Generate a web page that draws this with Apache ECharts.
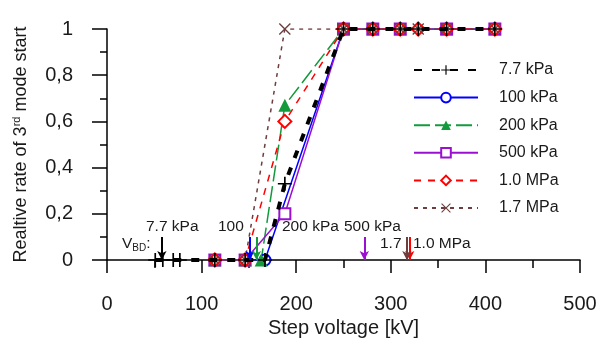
<!DOCTYPE html>
<html>
<head>
<meta charset="utf-8">
<script src="https://cdn.jsdelivr.net/npm/echarts@6/dist/echarts.min.js"></script>
<style>
  html, body { margin: 0; padding: 0; background: #fff; }
  #chart { width: 613px; height: 345px; }
</style>
</head>
<body>
<div id="chart"></div>
<script>
// series names
const names = ['7.7 kPa', '100 kPa', '200 kPa', '500 kPa', '1.0 MPa', '1.7 MPa'];

// step voltages [kV] and relative rate per series
const x77 = [51, 59, 70, 77, 114, 146, 167, 188, 250, 281, 310, 329, 359, 410];
const y77 = [0, 0, 0, 0, 0, 0, 0, 0.33, 1, 1, 1, 1, 1, 1];
const x100 = [114, 146, 167, 250, 281, 310, 359, 410];
const y100 = [0, 0, 0, 1, 1, 1, 1, 1];
const x200 = [114, 146, 163, 188, 250, 281, 310, 359, 410];
const y200 = [0, 0, 0, 0.67, 1, 1, 1, 1, 1];
const x500 = [114, 146, 188, 250, 281, 310, 359, 410];
const y500 = [0, 0, 0.2, 1, 1, 1, 1, 1];
const x1000 = [114, 146, 188, 250, 281, 310, 329, 359, 410];
const y1000 = [0, 0, 0.6, 1, 1, 1, 1, 1, 1];
const x1700 = [114, 146, 188, 250, 281, 310, 329, 359, 410];
const y1700 = [0, 0, 1, 1, 1, 1, 1, 1, 1];

// breakdown voltages V_BD [kV], same order as names
const vbd = [58, 151, 158, 272, 320, 317];

const xTicks = [0, 100, 200, 300, 400, 500];
const yTicks = [0, 0.2, 0.4, 0.6, 0.8, 1];

const colors = ['#000000', '#0000ff', '#129a3c', '#9b10d0', '#ff0000', '#6e3d3d'];
const plusPath = 'path://M4.4,0H5.6V4.4H10V5.6H5.6V10H4.4V5.6H0V4.4H4.4Z';
const crossPath = 'path://M0,0.8L0.8,0L5,4.2L9.2,0L10,0.8L5.8,5L10,9.2L9.2,10L5,5.8L0.8,10L0,9.2L4.2,5Z';

const pairs = (xs, ys) => xs.map((x, i) => [x, ys[i]]);

function arrow(i) {
  return {
    silent: true,
    symbol: ['none', 'arrow'],
    symbolSize: [7, 9],
    label: { show: false },
    lineStyle: { color: colors[i], width: 2, type: 'solid' },
    data: [[{ coord: [vbd[i], 0.1] }, { coord: [vbd[i], 0] }]]
  };
}

const chart = echarts.init(document.getElementById('chart'));
const font = 'Liberation Sans, Arial, sans-serif';
const ink = '#1a1a1a';

function note(text, left, top) {
  return { type: 'text', left, top, style: { text, fontSize: 15.5, fontFamily: font, fill: ink } };
}

const option = {
  animation: false,
  textStyle: { fontFamily: font },
  grid: { left: 107, right: 33, top: 29, bottom: 85 },
  legend: {
    orient: 'vertical',
    left: 408,
    top: 56,
    itemWidth: 64,
    itemHeight: 12,
    itemGap: 9.6,
    textStyle: { fontSize: 16, lineHeight: 18, color: ink, padding: [0, 0, 0, 16] },
    data: names
  },
  xAxis: {
    type: 'value',
    min: 0,
    max: 500,
    interval: 100,
    name: 'Step voltage [kV]',
    nameLocation: 'middle',
    nameGap: 58,
    nameTextStyle: { fontSize: 20, color: ink },
    axisLine: { lineStyle: { color: '#000', width: 1.5 } },
    axisTick: { length: 13, lineStyle: { color: '#000', width: 1.5 } },
    minorTick: { show: true, splitNumber: 2, length: 8, lineStyle: { color: '#000', width: 1.5 } },
    splitLine: { show: false },
    axisLabel: { margin: 34, fontSize: 20, color: ink,
      formatter: v => xTicks.includes(v) ? String(v) : '' }
  },
  yAxis: {
    type: 'value',
    min: 0,
    max: 1,
    interval: 0.2,
    name: 'Realtive rate of 3{sup|rd} mode start',
    nameLocation: 'middle',
    nameGap: 76,
    nameRotate: 90,
    nameTextStyle: {
      fontSize: 18, color: ink,
      rich: { sup: { fontSize: 11, color: ink, verticalAlign: 'top', padding: [0, 0, 9, 0] } }
    },
    axisLine: { show: true, lineStyle: { color: '#000', width: 1.5 } },
    axisTick: { show: true, length: 15, lineStyle: { color: '#000', width: 1.5 } },
    minorTick: { show: true, splitNumber: 2, length: 7, lineStyle: { color: '#000', width: 1.5 } },
    splitLine: { show: false },
    axisLabel: { margin: 34, fontSize: 20, color: ink,
      formatter: v => yTicks.includes(v) ? String(v).replace('.', ',') : '' }
  },
  graphic: [
    note('7.7 kPa', 146, 219),
    note('100', 218, 219),
    note('200 kPa', 282, 219),
    note('500 kPa', 344, 219),
    note('1.7', 380, 236),
    note('1.0 MPa', 413, 236),
    { type: 'text', left: 122, top: 236, style: {
      text: '{a|V}{b|BD}{a|:}', fontFamily: font, fill: ink,
      rich: { a: { fontSize: 15.5, fontFamily: font }, b: { fontSize: 10, fontFamily: font, padding: [9, 0, 0, 0] } } } }
  ],
  series: [
    {
      name: names[1], type: 'line', z: 3, data: pairs(x100, y100),
      symbol: 'emptyCircle', symbolSize: 11,
      itemStyle: { color: colors[1], borderWidth: 1 },
      lineStyle: { color: colors[1], width: 1.5 },
      markLine: arrow(1)
    },
    {
      name: names[2], type: 'line', z: 3, data: pairs(x200, y200),
      symbol: 'triangle', symbolSize: 13,
      itemStyle: { color: colors[2] },
      lineStyle: { color: colors[2], width: 1.5, type: [16, 5] },
      markLine: arrow(2)
    },
    {
      name: names[3], type: 'line', z: 3, data: pairs(x500, y500),
      symbol: 'emptyRect', symbolSize: 11,
      itemStyle: { color: colors[3], borderWidth: 1 },
      lineStyle: { color: colors[3], width: 1.5 },
      markLine: arrow(3)
    },
    {
      name: names[4], type: 'line', z: 3, data: pairs(x1000, y1000),
      symbol: 'emptyDiamond', symbolSize: 13,
      itemStyle: { color: colors[4], borderWidth: 1 },
      lineStyle: { color: colors[4], width: 1.5, type: [7, 7] },
      markLine: arrow(4)
    },
    {
      name: names[5], type: 'line', z: 3, data: pairs(x1700, y1700),
      symbol: crossPath, symbolSize: 12,
      itemStyle: { color: colors[5] },
      lineStyle: { color: colors[5], width: 1.5, type: [4, 5] },
      markLine: arrow(5)
    },
    {
      name: names[0], type: 'line', z: 4, data: pairs(x77, y77),
      symbol: plusPath, symbolSize: 14,
      itemStyle: { color: colors[0] },
      lineStyle: { color: colors[0], width: 4, type: [8, 10] },
      markLine: arrow(0)
    }
  ]
};

chart.setOption(option);
</script>
</body>
</html>
